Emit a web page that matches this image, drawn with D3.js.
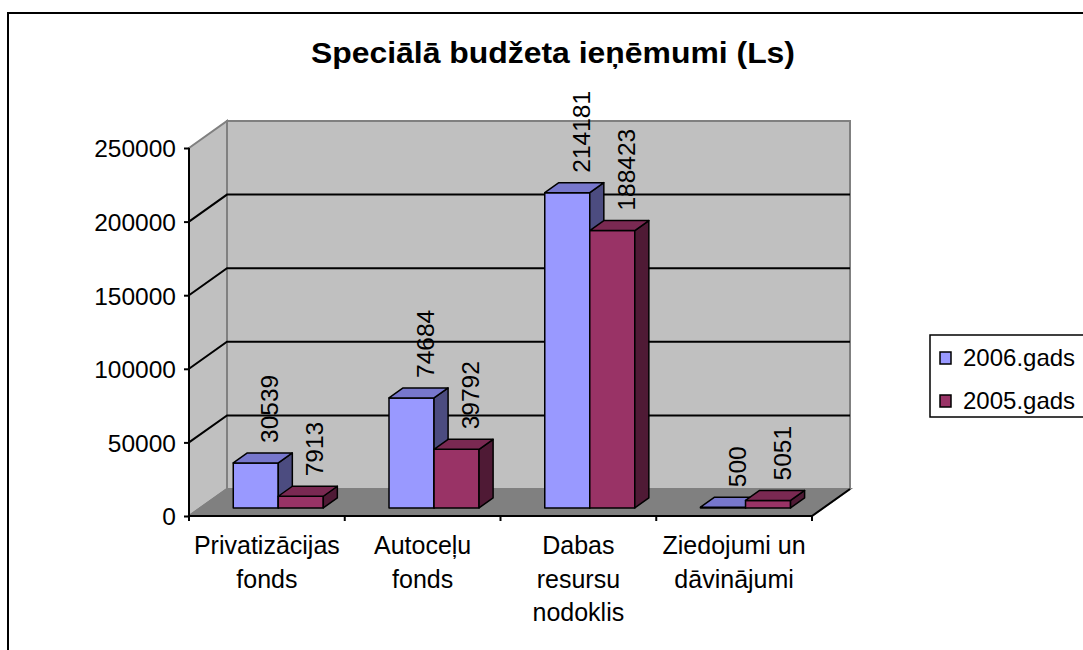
<!DOCTYPE html>
<html><head><meta charset="utf-8">
<script src="https://cdn.jsdelivr.net/npm/d3@7"></script>
<style>body{margin:0;background:#fff}svg{display:block}text{font-family:"Liberation Sans",Arial,sans-serif}</style>
</head><body>
<svg id="c" width="1083" height="650"></svg>
<script>
const title = "Speciālā budžeta ieņēmumi (Ls)";
const categories = ["Privatizācijas fonds", "Autoceļu fonds", "Dabas resursu nodoklis", "Ziedojumi un dāvinājumi"];
const categoryLines = [["Privatizācijas", "fonds"], ["Autoceļu", "fonds"], ["Dabas", "resursu", "nodoklis"], ["Ziedojumi un", "dāvinājumi"]];
const seriesNames = ["2006.gads", "2005.gads"];
const values2006 = [30539, 74684, 214181, 500];
const values2005 = [7913, 39792, 188423, 5051];
const yTicks = [0, 50000, 100000, 150000, 200000, 250000];

const seriesValues = [values2006, values2005];
const colors = [
  {front: "#9999FF", top: "#7777CC", side: "#4C4C80"},
  {front: "#993366", top: "#7A2952", side: "#4F1A35"}
];

const svg = d3.select("#c");
const DX = 38, DY = 27;          // wall depth offset
const BZ0 = 0.3, BZ1 = 0.67;     // bar depth range (fraction)
const x0 = 189, x1e = 812, yTop = 148, yBot = 516;

const x = d3.scaleBand().domain(categories).range([x0, x1e]);
const xs = d3.scaleBand().domain(seriesNames).range([0, x.bandwidth()]).paddingOuter(0.73);
const y = d3.scaleLinear().domain([0, 250000]).range([yBot, yTop]);

const P = (px, py, z) => [px + z * DX, py - z * DY];
const poly = pts => "M" + pts.map(p => p.join(",")).join("L") + "Z";

// outer border
svg.append("rect").attr("x", 8).attr("y", 13).attr("width", 1200).attr("height", 800)
  .attr("fill", "none").attr("stroke", "#000").attr("stroke-width", 2);

// title
svg.append("text").attr("x", 553).attr("y", 63).attr("text-anchor", "middle")
  .attr("font-size", 30).attr("font-weight", "bold")
  .attr("textLength", 484).attr("lengthAdjust", "spacingAndGlyphs").text(title);

// left wall
svg.append("path").attr("d", poly([P(x0, yTop, 0), P(x0, yTop, 1), P(x0, yBot, 1), P(x0, yBot, 0)]))
  .attr("fill", "#C0C0C0").attr("stroke", "#808080").attr("stroke-width", 2);
// back wall
svg.append("path").attr("d", poly([P(x0, yTop, 1), P(x1e, yTop, 1), P(x1e, yBot, 1), P(x0, yBot, 1)]))
  .attr("fill", "#C0C0C0").attr("stroke", "#808080").attr("stroke-width", 2);
// floor
svg.append("path").attr("d", poly([P(x0, yBot, 0), P(x1e, yBot, 0), P(x1e, yBot, 1), P(x0, yBot, 1)]))
  .attr("fill", "#808080").attr("stroke", "#808080").attr("stroke-width", 2);
svg.append("line").attr("x1", x1e).attr("y1", yBot).attr("x2", x1e + DX).attr("y2", yBot - DY)
  .attr("stroke", "#000").attr("stroke-width", 2);

// gridlines
const grid = yTicks.filter(t => t > 0 && t < 250000);
grid.forEach(t => {
  const a = P(x0, y(t), 0), b = P(x0, y(t), 1), c = P(x1e, y(t), 1);
  svg.append("path").attr("d", "M" + a + "L" + b + "L" + c).attr("fill", "none")
    .attr("stroke", "#000").attr("stroke-width", 2);
});

// y axis
const yAxis = d3.axisLeft(y).tickValues(yTicks).tickSize(5).tickPadding(8).tickFormat(d3.format("d"));
const ga = svg.append("g").attr("transform", `translate(${x0},0)`).call(yAxis);
ga.select(".domain").attr("stroke-width", 2).attr("d", `M0,${yTop}V${yBot}`);
ga.selectAll(".tick line").attr("stroke-width", 2);
ga.selectAll(".tick text").attr("font-size", 24.5).attr("font-family", '"Liberation Sans",Arial,sans-serif').attr("fill", "#000").attr("dy", "0.36em");

// x axis
svg.append("line").attr("x1", x0).attr("x2", x1e).attr("y1", yBot).attr("y2", yBot)
  .attr("stroke", "#000").attr("stroke-width", 2);
const bounds = categories.map(c => x(c)).concat([x1e]);
bounds.forEach(bx => svg.append("line").attr("x1", bx).attr("x2", bx).attr("y1", yBot).attr("y2", yBot + 5)
  .attr("stroke", "#000").attr("stroke-width", 2));
categoryLines.forEach((lines, i) => {
  const cx = x(categories[i]) + x.bandwidth() / 2;
  const t = svg.append("text").attr("text-anchor", "middle").attr("font-size", 25);
  lines.forEach((ln, j) => t.append("tspan").attr("x", cx).attr("y", 554 + j * 33.5).text(ln));
});

// bars
const bw = xs.bandwidth();
const labels = [];
categories.forEach((c, i) => {
  seriesNames.forEach((s, k) => {
    const v = seriesValues[k][i];
    const xl = x(c) + xs(s), xr = xl + bw;
    const yb = y(0), yt = y(v);
    const col = colors[k];
    const g = svg.append("g").attr("stroke", "#000").attr("stroke-width", 1.5).attr("stroke-linejoin", "round");
    g.append("path").attr("d", poly([P(xl, yt, BZ0), P(xr, yt, BZ0), P(xr, yb, BZ0), P(xl, yb, BZ0)])).attr("fill", col.front);
    g.append("path").attr("d", poly([P(xr, yt, BZ0), P(xr, yt, BZ1), P(xr, yb, BZ1), P(xr, yb, BZ0)])).attr("fill", col.side);
    g.append("path").attr("d", poly([P(xl, yt, BZ0), P(xl, yt, BZ1), P(xr, yt, BZ1), P(xr, yt, BZ0)])).attr("fill", col.top);
    const lp = P((xl + xr) / 2, yt, BZ1);
    labels.push({v, x: lp[0] + 8.5, y: lp[1] - 10});
  });
});
labels.forEach(l => {
  svg.append("text").attr("transform", `translate(${l.x},${l.y}) rotate(-90)`)
    .attr("font-size", 24.5).text(l.v);
});

// legend
svg.append("rect").attr("x", 930).attr("y", 335).attr("width", 200).attr("height", 82)
  .attr("fill", "#fff").attr("stroke", "#000").attr("stroke-width", 1.5);
seriesNames.forEach((s, k) => {
  svg.append("rect").attr("x", 940).attr("y", 352 + k * 43).attr("width", 11).attr("height", 12)
    .attr("fill", colors[k].front).attr("stroke", "#000").attr("stroke-width", 1.5);
  svg.append("text").attr("x", 963).attr("y", 366 + k * 43).attr("font-size", 24).text(s);
});
</script>
</body></html>
